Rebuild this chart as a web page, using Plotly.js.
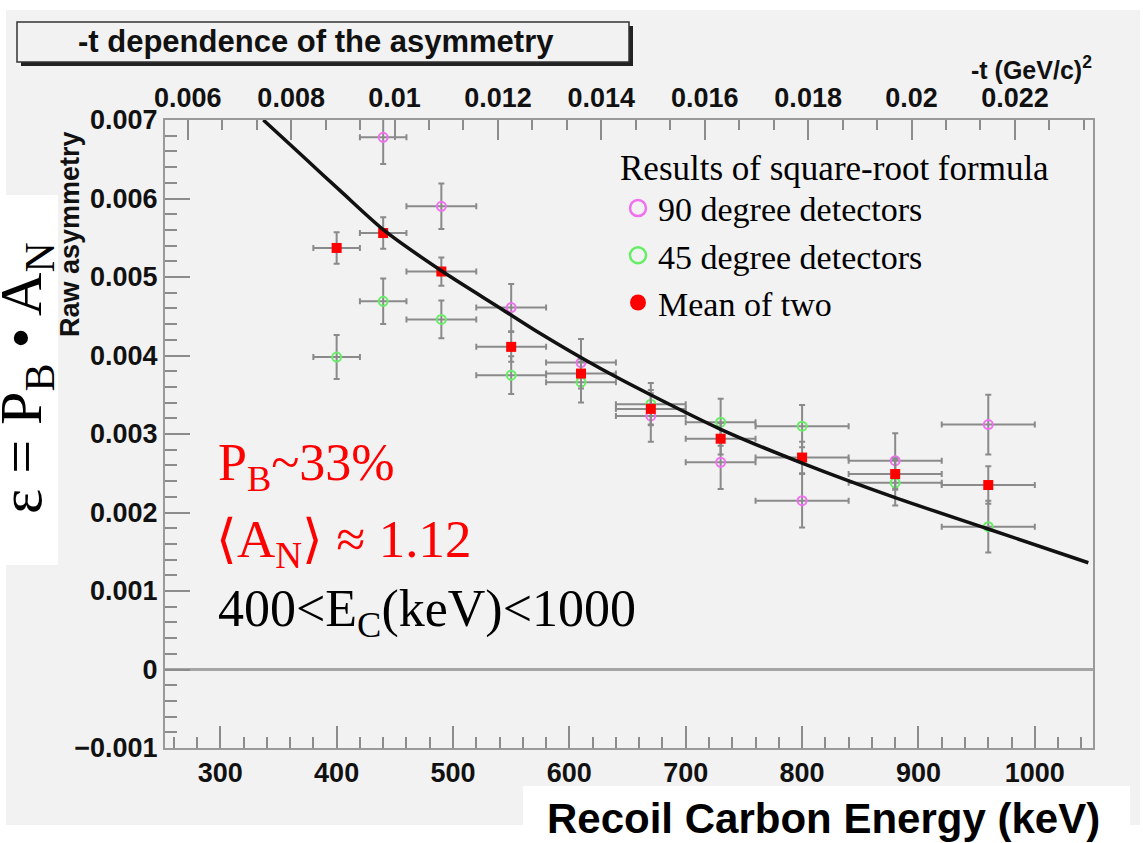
<!DOCTYPE html>
<html>
<head>
<meta charset="utf-8">
<script src="https://cdn.plot.ly/plotly-3.0.1.min.js"></script>
<style>
  html, body { margin: 0; padding: 0; background: #ffffff; }
  #chart { width: 1143px; height: 843px; }
</style>
</head>
<body>
<div id="chart"></div>
<script>
// Recoil carbon energy bins (keV) and half-widths
const energyKeV = [400, 440, 490, 550, 610, 670, 730, 800, 880, 960];
const energyHalfWidth = [20, 20, 30, 30, 30, 30, 30, 40, 40, 40];

// 90 degree detectors (value at 400 keV lies outside the frame)
const asym90 = [null, 0.00678, 0.00590, 0.00461, 0.00391, 0.00323, 0.00264, 0.00215, 0.00266, 0.00312];
const err90  = [null, 0.00034, 0.00029, 0.00030, 0.00030, 0.00033, 0.00034, 0.00034, 0.00035, 0.00038];

// 45 degree detectors
const asym45 = [0.00398, 0.00469, 0.00446, 0.00375, 0.00366, 0.00338, 0.00315, 0.00310, 0.00238, 0.00182];
const err45  = [0.00028, 0.00029, 0.00024, 0.00024, 0.00026, 0.00027, 0.00030, 0.00027, 0.00029, 0.00033];

// Mean of two
const asymMean = [0.00537, 0.00556, 0.00507, 0.00411, 0.00377, 0.00332, 0.00294, 0.00270, 0.00249, 0.00235];
const errMean  = [0.00020, 0.00020, 0.00018, 0.00019, 0.00019, 0.00020, 0.00020, 0.00020, 0.00020, 0.00024];

// Fitted curve
const fitE = [337, 370, 403, 442, 492, 541, 575, 626, 671, 730, 800, 880, 960, 1046];
const fitA = [0.00700, 0.00655, 0.00610, 0.00558, 0.00506, 0.00460, 0.00428, 0.00384, 0.00349, 0.00306, 0.00263, 0.00219, 0.00179, 0.00136];

const legendTitle = 'Results of square-root formula';
const legendNames = ['90 degree detectors', '45 degree detectors', 'Mean of two'];

const errColor = '#8a8a8a';
const magenta = '#f070f0';
const green = '#66ee66';
const red = '#ff0000';

function errX() {
  return { type: 'data', array: energyHalfWidth, color: errColor, thickness: 2, width: 3 };
}
function errY(arr) {
  return { type: 'data', array: arr, color: errColor, thickness: 2, width: 3 };
}

const traces = [
  { type: 'scatter', mode: 'markers', x: energyKeV, y: asym90, showlegend: false,
    error_x: errX(), error_y: errY(err90),
    marker: { symbol: 'circle-open', size: 9, color: magenta, line: { width: 2, color: magenta } } },
  { type: 'scatter', mode: 'markers', x: energyKeV, y: asym45, showlegend: false,
    error_x: errX(), error_y: errY(err45),
    marker: { symbol: 'circle-open', size: 9, color: green, line: { width: 2, color: green } } },
  { type: 'scatter', mode: 'markers', x: energyKeV, y: asymMean, showlegend: false,
    error_x: errX(), error_y: errY(errMean),
    marker: { symbol: 'square', size: 10, color: red } },
  { type: 'scatter', mode: 'lines', x: fitE, y: fitA, showlegend: false,
    line: { color: '#111111', width: 3.5, shape: 'spline', smoothing: 0.8 } },
  // legend entries (no plotted points)
  { type: 'scatter', mode: 'markers', x: [null], y: [null], name: legendNames[0], showlegend: true,
    marker: { symbol: 'circle-open', size: 16, color: magenta, line: { width: 2.5, color: magenta } } },
  { type: 'scatter', mode: 'markers', x: [null], y: [null], name: legendNames[1], showlegend: true,
    marker: { symbol: 'circle-open', size: 16, color: green, line: { width: 2.5, color: green } } },
  { type: 'scatter', mode: 'markers', x: [null], y: [null], name: legendNames[2], showlegend: true,
    marker: { symbol: 'circle', size: 16, color: red } },
  // top axis holder
  { type: 'scatter', mode: 'markers', x: [null], y: [null], xaxis: 'x2', yaxis: 'y', showlegend: false, hoverinfo: 'skip' }
];

const L = 165, R = 1093, T = 120, B = 748;
const W = R - L, H = B - T;
const px = v => (v - L) / W;
const py = v => (B - v) / H;

const tickFont = { family: 'Liberation Sans, Arial, sans-serif', size: 27, weight: 'bold', color: '#111111' };
const serif = 'Liberation Serif, Times New Roman, serif';
const lineCol = '#9a9a9a';
const tickCol = '#8c8c8c';

const layout = {
  width: 1143, height: 843, autosize: false,
  margin: { l: L, r: 1143 - R, t: T, b: 843 - B, pad: 0 },
  paper_bgcolor: '#ffffff',
  plot_bgcolor: '#f2f2f2',
  showlegend: true,
  legend: {
    x: px(618), y: py(134), xanchor: 'left', yanchor: 'top',
    bgcolor: 'rgba(0,0,0,0)', borderwidth: 0,
    font: { family: serif, size: 34, color: '#000000' },
    title: { text: legendTitle, font: { family: serif, size: 35, color: '#000000' } },
    itemsizing: 'trace', tracegroupgap: 0
  },
  xaxis: {
    range: [252.5, 1050], dtick: 100, tick0: 0,
    ticks: 'inside', ticklen: 22, tickwidth: 2, tickcolor: tickCol,
    minor: { ticks: 'inside', dtick: 20, ticklen: 11, tickwidth: 2, tickcolor: tickCol },
    showline: true, linecolor: lineCol, linewidth: 2, mirror: true,
    showgrid: false, zeroline: false,
    tickfont: tickFont
  },
  xaxis2: {
    overlaying: 'x', side: 'top', anchor: 'y',
    range: [0.00556, 0.02351], dtick: 0.002, tick0: 0,
    ticks: 'inside', ticklen: 20, tickwidth: 2, tickcolor: tickCol,
    minor: { ticks: 'inside', dtick: 0.002 / 3, tick0: 0, ticklen: 10, tickwidth: 2, tickcolor: tickCol },
    showline: true, linecolor: lineCol, linewidth: 2,
    showgrid: false, zeroline: false,
    tickfont: tickFont
  },
  yaxis: {
    range: [-0.001, 0.007], dtick: 0.001, tick0: 0,
    ticks: 'inside', ticklen: 25, tickwidth: 2, tickcolor: tickCol,
    minor: { ticks: 'inside', dtick: 0.0002, ticklen: 12, tickwidth: 2, tickcolor: tickCol },
    showline: true, linecolor: lineCol, linewidth: 2, mirror: true,
    showgrid: false,
    zeroline: true, zerolinecolor: '#a5a5a5', zerolinewidth: 2.5,
    tickfont: tickFont
  },
  shapes: [
    // canvas background
    { type: 'rect', xref: 'paper', yref: 'paper', layer: 'below',
      x0: px(6), x1: px(1140), y0: py(825), y1: py(10),
      fillcolor: '#f2f2f2', line: { width: 0 } },
    // title shadow
    { type: 'rect', xref: 'paper', yref: 'paper', layer: 'below',
      x0: px(21), x1: px(633), y0: py(66), y1: py(26),
      fillcolor: '#222222', line: { width: 0 } },
    // title box
    { type: 'rect', xref: 'paper', yref: 'paper', layer: 'below',
      x0: px(17), x1: px(629), y0: py(62), y1: py(22),
      fillcolor: '#f2f2f2', line: { width: 1.5, color: '#333333' } },
    // white box behind epsilon label
    { type: 'rect', xref: 'paper', yref: 'paper', layer: 'below',
      x0: px(0), x1: px(58), y0: py(565), y1: py(195),
      fillcolor: '#ffffff', line: { width: 0 } },
    // white box behind x title
    { type: 'rect', xref: 'paper', yref: 'paper', layer: 'below',
      x0: px(523), x1: px(1130), y0: py(843), y1: py(786),
      fillcolor: '#ffffff', line: { width: 0 } }
  ],
  annotations: [
    { xref: 'paper', yref: 'paper', x: px(316), y: py(42), xanchor: 'center', yanchor: 'middle',
      text: '-t dependence of the asymmetry', showarrow: false,
      font: { family: 'Liberation Sans, Arial, sans-serif', size: 31, weight: 'bold', color: '#111111' } },
    { xref: 'paper', yref: 'paper', x: px(1094), y: py(68), xanchor: 'right', yanchor: 'middle',
      text: '-t (GeV/c)<sup>2</sup>', showarrow: false,
      font: { family: 'Liberation Sans, Arial, sans-serif', size: 25, weight: 'bold', color: '#111111' } },
    { xref: 'paper', yref: 'paper', x: px(70), y: py(234), xanchor: 'center', yanchor: 'middle',
      text: 'Raw asymmetry', textangle: -90, showarrow: false,
      font: { family: 'Liberation Sans, Arial, sans-serif', size: 27, weight: 'bold', color: '#111111' } },
    { xref: 'paper', yref: 'paper', x: px(25), y: py(378), xanchor: 'center', yanchor: 'middle',
      text: 'ε = P<sub>B</sub> • A<sub>N</sub>', textangle: -90, showarrow: false,
      font: { family: serif, size: 60, color: '#000000' } },
    { xref: 'paper', yref: 'paper', x: px(216), y: py(466), xanchor: 'left', yanchor: 'middle',
      text: 'P<sub>B</sub>~33%', showarrow: false,
      font: { family: serif, size: 52, color: '#ff0000' } },
    { xref: 'paper', yref: 'paper', x: px(214), y: py(543), xanchor: 'left', yanchor: 'middle',
      text: '⟨A<sub>N</sub>⟩ ≈ 1.12', showarrow: false,
      font: { family: serif, size: 53, color: '#ff0000' } },
    { xref: 'paper', yref: 'paper', x: px(216), y: py(612), xanchor: 'left', yanchor: 'middle',
      text: '400&lt;E<sub>C</sub>(keV)&lt;1000', showarrow: false,
      font: { family: serif, size: 52, color: '#000000' } },
    { xref: 'paper', yref: 'paper', x: px(823), y: py(818), xanchor: 'center', yanchor: 'middle',
      text: 'Recoil Carbon Energy (keV)', showarrow: false,
      font: { family: 'Liberation Sans, Arial, sans-serif', size: 42, weight: 'bold', color: '#000000' } }
  ]
};

Plotly.newPlot('chart', traces, layout, { displayModeBar: false, staticPlot: true });
</script>
</body>
</html>
